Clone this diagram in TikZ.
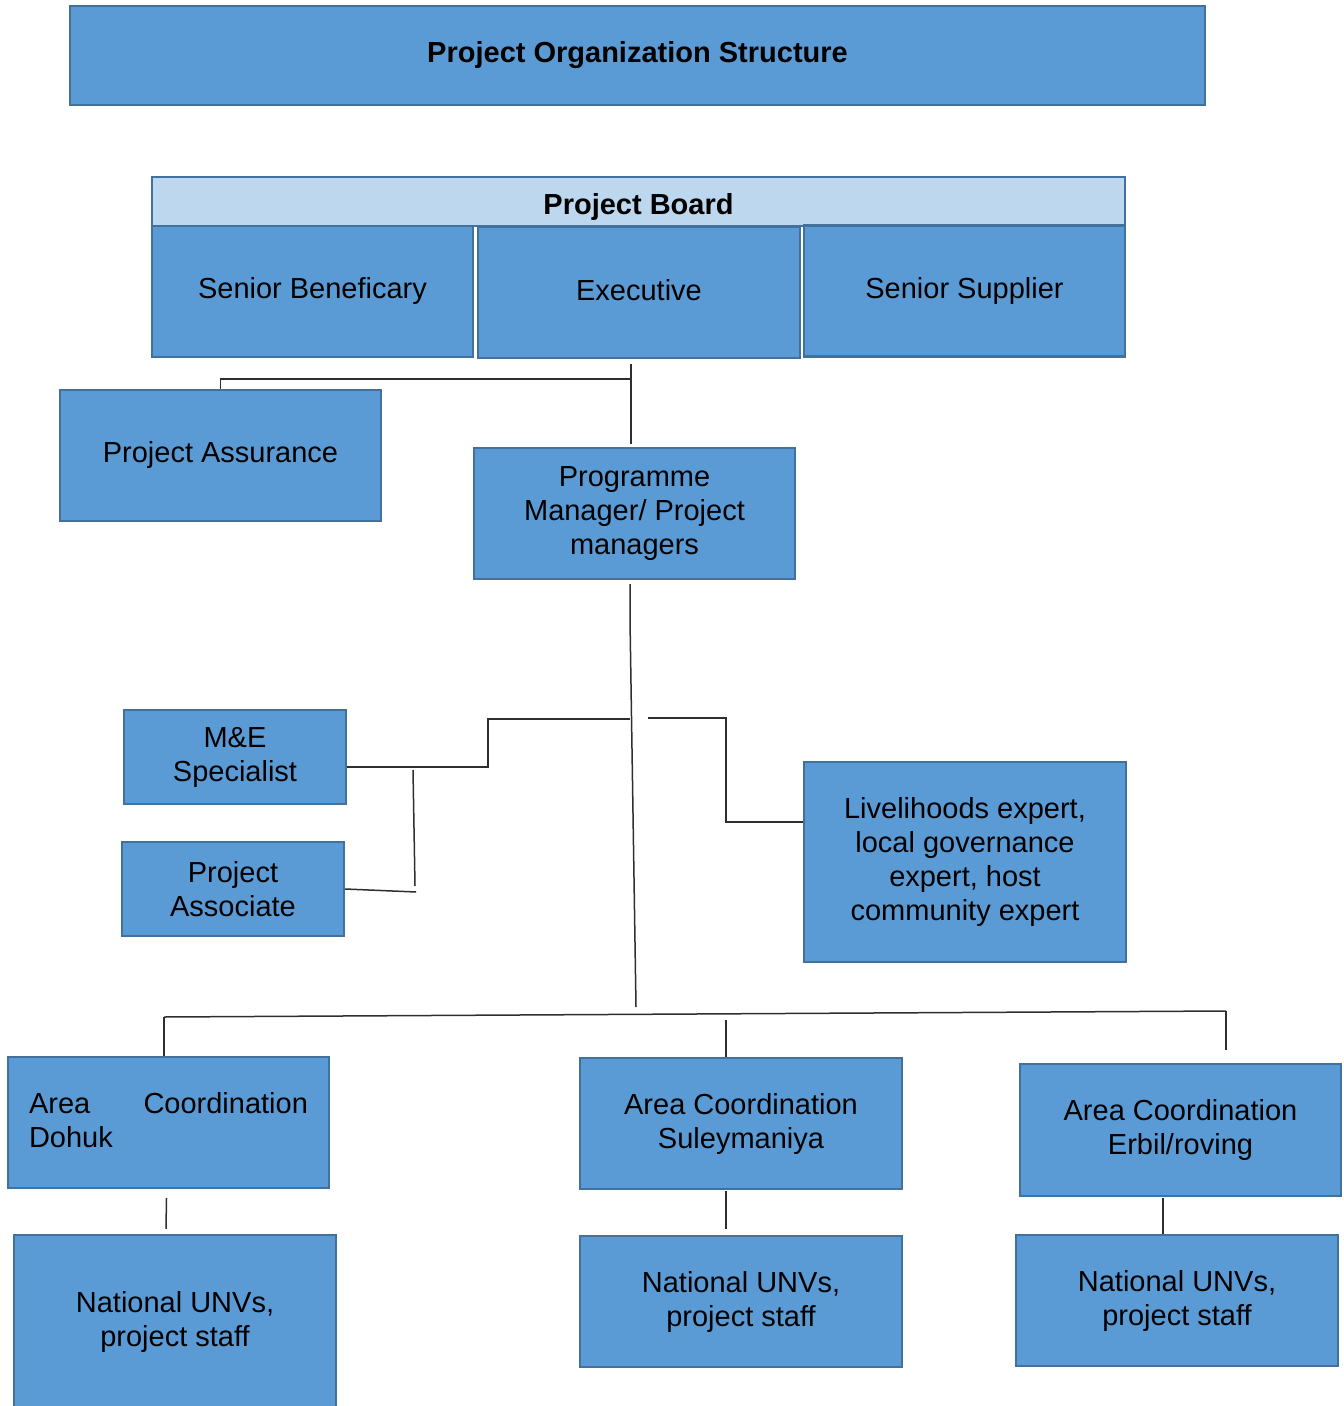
\documentclass[tikz,border=0pt]{standalone}
\usepackage{fontspec}
\setmainfont{Liberation Sans}
\usepackage{tikz}
\usetikzlibrary{positioning,calc}
\definecolor{boxblue}{HTML}{5B9BD5}
\definecolor{boxedge}{HTML}{41719C}
\definecolor{hdrblue}{HTML}{BDD7EE}
\definecolor{wire}{HTML}{2E2E2E}
\tikzset{
  unit/.style    = {rectangle, draw=boxedge, fill=boxblue, line width=1.2pt, inner sep=2pt,
                    align=center, font=\fontsize{14.5}{17}\selectfont},
  wide/.style    = {unit, minimum width=160.5pt, minimum height=65.5pt},
  small/.style   = {unit, minimum width=111pt, minimum height=47pt},
  hdr/.style     = {unit, fill=hdrblue, font=\fontsize{14.5}{17}\selectfont\bfseries},
  link/.style    = {draw=wire, line width=0.75pt},
}

\begin{document}
\begin{tikzpicture}[x=0.5pt, y=-0.5pt]
  \useasboundingbox (0,0) rectangle (1343,1406);
  % title and board
  \node[hdr, fill=boxblue, minimum width=567.5pt, minimum height=49.5pt] (title) at (637.5,55.5)
    {Project Organization Structure};
  \node[hdr, minimum width=486.5pt, minimum height=24.5pt, text height=13.4pt, text depth=0pt]
    (board) at (638.5,201.5) {Project Board};
  \node[wide] (benef) at (312.5,291.5) {Senior Beneficary};
  \node[wide, minimum width=161pt, text height=8.4pt, text depth=0pt] (exec) at (639,292.5) {Executive};
  \node[wide] (supp) at (964.5,291) {Senior Supplier};
  % management
  \node[wide] (assur) at (220.5,455.5) {Project Assurance};
  \node[wide] (pm) at (634.5,513.5) {Programme\\Manager/ Project\\managers};
  \node[small] (mne) at (235,757) {M\&E\\Specialist};
  \node[small] (assoc) at (233,889) {Project\\Associate};
  \node[wide, minimum width=161pt, minimum height=100pt] (experts) at (965,862)
    {Livelihoods expert,\\local governance\\expert, host\\community expert};
  % areas
  \node[wide, align=left, text width=139.5pt, text depth=20pt] (dohuk) at (168.5,1122.5)
    {Area\hfill Coordination\\Dohuk};
  \node[wide, minimum width=161pt] (sulay) at (741,1123.5) {Area Coordination\\Suleymaniya};
  \node[wide, minimum height=66pt] (erbil) at (1180.5,1130) {Area Coordination\\Erbil/roving};
  \node[wide, minimum width=161pt, minimum height=87pt] (staffd) at (175,1322) {National UNVs,\\project staff};
  \node[wide, minimum width=161pt] (staffs) at (741,1301.5) {National UNVs,\\project staff};
  \node[wide, minimum width=161pt] (staffe) at (1177,1300.5) {National UNVs,\\project staff};
  % joints
  \coordinate (boardtap) at (631,364);
  \coordinate (assurtap) at (631,379);
  \coordinate (pmtop) at (631,444);
  \coordinate (pmtap) at (630,584);
  \coordinate (spinemid) at (630,620);
  \coordinate (spineend) at (636,1007);
  \coordinate (leftarm) at (630,719);
  \coordinate (rightarm) at (648,718);
  \coordinate (assoctop) at (413,770);
  \coordinate (assocbot) at (415,886);
  \coordinate (barl) at (164,1017);
  \coordinate (barr) at (1226,1011);
  \coordinate (sulaytap) at (726,1020);
  % connectors
  \draw[link] (boardtap) -- (pmtop);
  \draw[link] (assur.north) |- (assurtap);
  \draw[link] (pmtap) -- (spinemid) -- (spineend);
  \draw[link] (leftarm) -- ++(-142,0) |- ($(mne.east)+(0,10)$);
  \draw[link] (assoctop) -- (assocbot);
  \draw[link] (assoc.east) -- ++(71,3);
  \draw[link] (rightarm) -- ++(78,0) |- ($(experts.west)+(0,-40)$);
  \draw[link] (barl) -- (barr);
  \draw[link] (barl) -- (barl |- dohuk.north);
  \draw[link] (sulaytap) -- (sulaytap |- sulay.north);
  \draw[link] (barr) -- ++(0,39);
  \draw[link] ($(dohuk.south)+(-2,9)$) -- ($(staffd.north)+(-9,-5)$);
  \draw[link] ($(sulay.south)+(-15,1)$) -- ++(0,38);
  \draw[link] ($(erbil.south)+(-17.5,1)$) -- ($(staffe.north)+(-14,0)$);
\end{tikzpicture}
\end{document}
